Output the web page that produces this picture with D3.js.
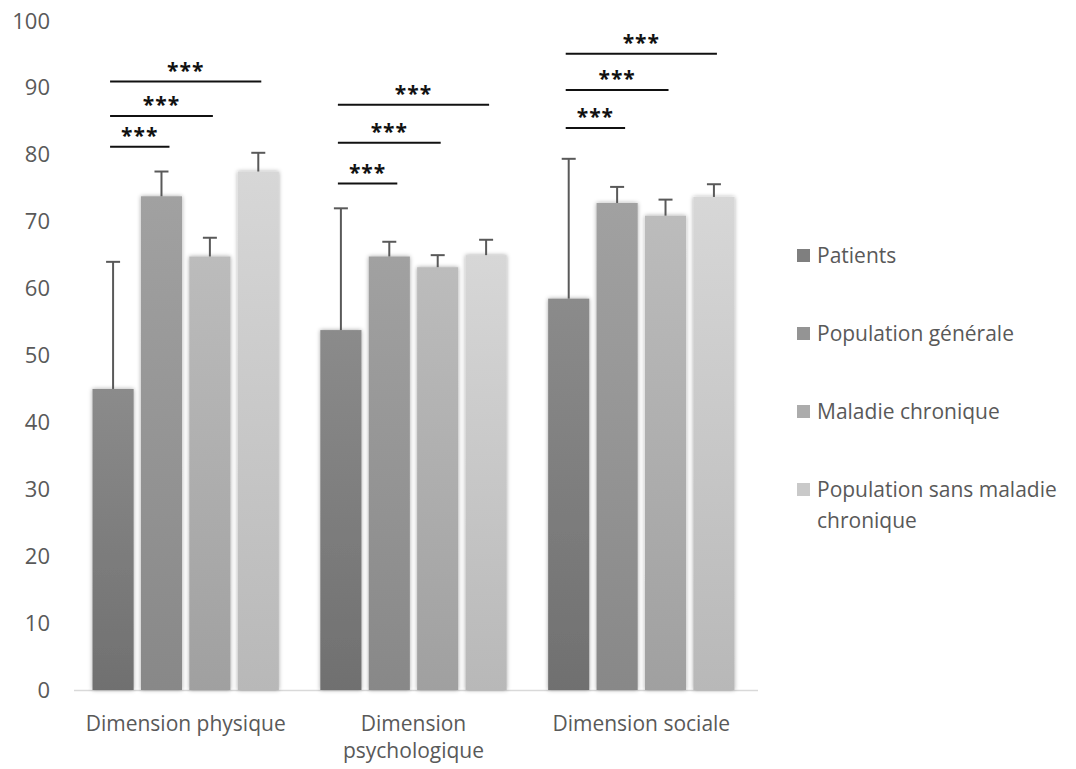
<!DOCTYPE html>
<html>
<head>
<meta charset="utf-8">
<script src="https://cdn.jsdelivr.net/npm/d3@7"></script>
<style>
  body { margin: 0; background: #fff; }
  text { font-family: "Open Sans", sans-serif; fill: #595959; }
</style>
</head>
<body>
<svg width="1076" height="769"></svg>
<script>
const categories = ['Dimension physique', 'Dimension psychologique', 'Dimension sociale'];
const series = ['Patients', 'Population générale', 'Maladie chronique', 'Population sans maladie chronique'];
const means = [
  [45, 73.8, 64.8, 77.5],
  [53.8, 64.8, 63.2, 65],
  [58.5, 72.8, 70.9, 73.7]
];
const errTops = [
  [64, 77.5, 67.6, 80.3],
  [72, 67, 65, 67.3],
  [79.4, 75.2, 73.3, 75.6]
];
// significance: [category, from series, to series, level]
const signif = [
  [0, 0, 1, 81.2], [0, 0, 2, 85.8], [0, 0, 3, 90.95],
  [1, 0, 1, 75.7], [1, 0, 2, 81.8], [1, 0, 3, 87.5],
  [2, 0, 1, 84], [2, 0, 2, 89.7], [2, 0, 3, 95.1]
];
const yTicks = [0, 10, 20, 30, 40, 50, 60, 70, 80, 90, 100];

const topCols = ['#8b8b8b', '#a1a1a1', '#bcbcbc', '#d7d7d7'];
const botCols = ['#707070', '#888888', '#a0a0a0', '#b8b8b8'];
const legendCols = ['#7f7f7f', '#949494', '#acacac', '#c9c9c9'];

const svg = d3.select('svg');
const mLeft = 72, mRight = 755, mTop = 21, mBottom = 690;

const x0 = d3.scaleBand().domain(d3.range(categories.length)).range([mLeft, mRight]).paddingInner(0.182).paddingOuter(0.09);
const x1 = d3.scaleBand().domain(d3.range(series.length)).range([0, x0.bandwidth()]).paddingInner(0.15);
const y = d3.scaleLinear().domain([0, 100]).range([mBottom, mTop]);

const defs = svg.append('defs');
series.forEach((s, i) => {
  const g = defs.append('linearGradient').attr('id', 'g' + i)
    .attr('x1', 0).attr('y1', 0).attr('x2', 0).attr('y2', 1);
  g.append('stop').attr('offset', '0%').attr('stop-color', topCols[i]);
  g.append('stop').attr('offset', '100%').attr('stop-color', botCols[i]);
});
const f = defs.append('filter').attr('id', 'shadow').attr('x', '-20%').attr('y', '-10%').attr('width', '140%').attr('height', '120%');
f.append('feDropShadow').attr('dx', 0).attr('dy', 0).attr('stdDeviation', 2).attr('flood-color', '#000').attr('flood-opacity', 0.35);

// y axis
const yAxis = svg.append('g')
  .attr('transform', 'translate(50,0)')
  .call(d3.axisLeft(y).tickValues(yTicks).tickSize(0).tickPadding(0));
yAxis.select('.domain').remove();
yAxis.selectAll('text').style('font-size', '22px').style('font-family', '"Open Sans", sans-serif').attr('fill', '#595959');

// baseline
svg.append('line').attr('x1', mLeft + 2).attr('x2', mRight + 3).attr('y1', mBottom + 0.5).attr('y2', mBottom + 0.5)
  .attr('stroke', '#d9d9d9').attr('stroke-width', 1.5);

// bars
const groups = svg.selectAll('.grp').data(means).enter().append('g')
  .attr('class', 'grp')
  .attr('transform', (d, i) => `translate(${x0(i)},0)`);

groups.selectAll('rect').data(d => d).enter().append('rect')
  .attr('x', (d, i) => x1(i))
  .attr('y', d => y(d))
  .attr('width', x1.bandwidth())
  .attr('height', d => mBottom - y(d))
  .attr('fill', (d, i) => `url(#g${i})`)
  .attr('filter', 'url(#shadow)');

// error bars
groups.each(function(d, gi) {
  const g = d3.select(this);
  d.forEach((v, i) => {
    const cx = x1(i) + x1.bandwidth() / 2;
    g.append('line').attr('x1', cx).attr('x2', cx).attr('y1', y(v)).attr('y2', y(errTops[gi][i]))
      .attr('stroke', '#595959').attr('stroke-width', 2);
    g.append('line').attr('x1', cx - 7).attr('x2', cx + 7).attr('y1', y(errTops[gi][i])).attr('y2', y(errTops[gi][i]))
      .attr('stroke', '#595959').attr('stroke-width', 2);
  });
});

// significance lines
signif.forEach(([c, a, b, lvl]) => {
  const xa = x0(c) + x1(a) + x1.bandwidth() / 2 - 3;
  const xb = x0(c) + x1(b) + x1.bandwidth() / 2 + (b === 1 ? 8 : 3);
  svg.append('line').attr('x1', xa).attr('x2', xb).attr('y1', y(lvl)).attr('y2', y(lvl))
    .attr('stroke', '#111').attr('stroke-width', 2);
  svg.append('text').attr('x', (xa + xb) / 2).attr('y', y(lvl) - 4)
    .attr('text-anchor', 'middle').style('font-size', '21px').style('font-weight', 'bold')
    .style('fill', '#111').style('letter-spacing', '1px').text('***');
});

// category labels
const catLines = [['Dimension physique'], ['Dimension', 'psychologique'], ['Dimension sociale']];
catLines.forEach((lines, i) => {
  const cx = x0(i) + x0.bandwidth() / 2;
  const t = svg.append('text').attr('x', cx).attr('y', 731)
    .attr('text-anchor', 'middle').style('font-size', '21px');
  lines.forEach((l, k) => t.append('tspan').attr('x', cx).attr('dy', k === 0 ? 0 : 27).text(l));
});

// legend
const legLines = [['Patients'], ['Population générale'], ['Maladie chronique'], ['Population sans maladie', 'chronique']];
const leg = svg.selectAll('.leg').data(legLines).enter().append('g')
  .attr('class', 'leg')
  .attr('transform', (d, i) => `translate(797,${255 + i * 78})`);
leg.append('rect').attr('x', 0).attr('y', -6).attr('width', 13).attr('height', 13)
  .attr('fill', (d, i) => legendCols[i]);
leg.append('text').attr('x', 20).attr('y', 8).style('font-size', '21px')
  .each(function(lines) {
    const t = d3.select(this);
    lines.forEach((l, k) => t.append('tspan').attr('x', 20).attr('dy', k === 0 ? 0 : 31).text(l));
  });
</script>
</body>
</html>
